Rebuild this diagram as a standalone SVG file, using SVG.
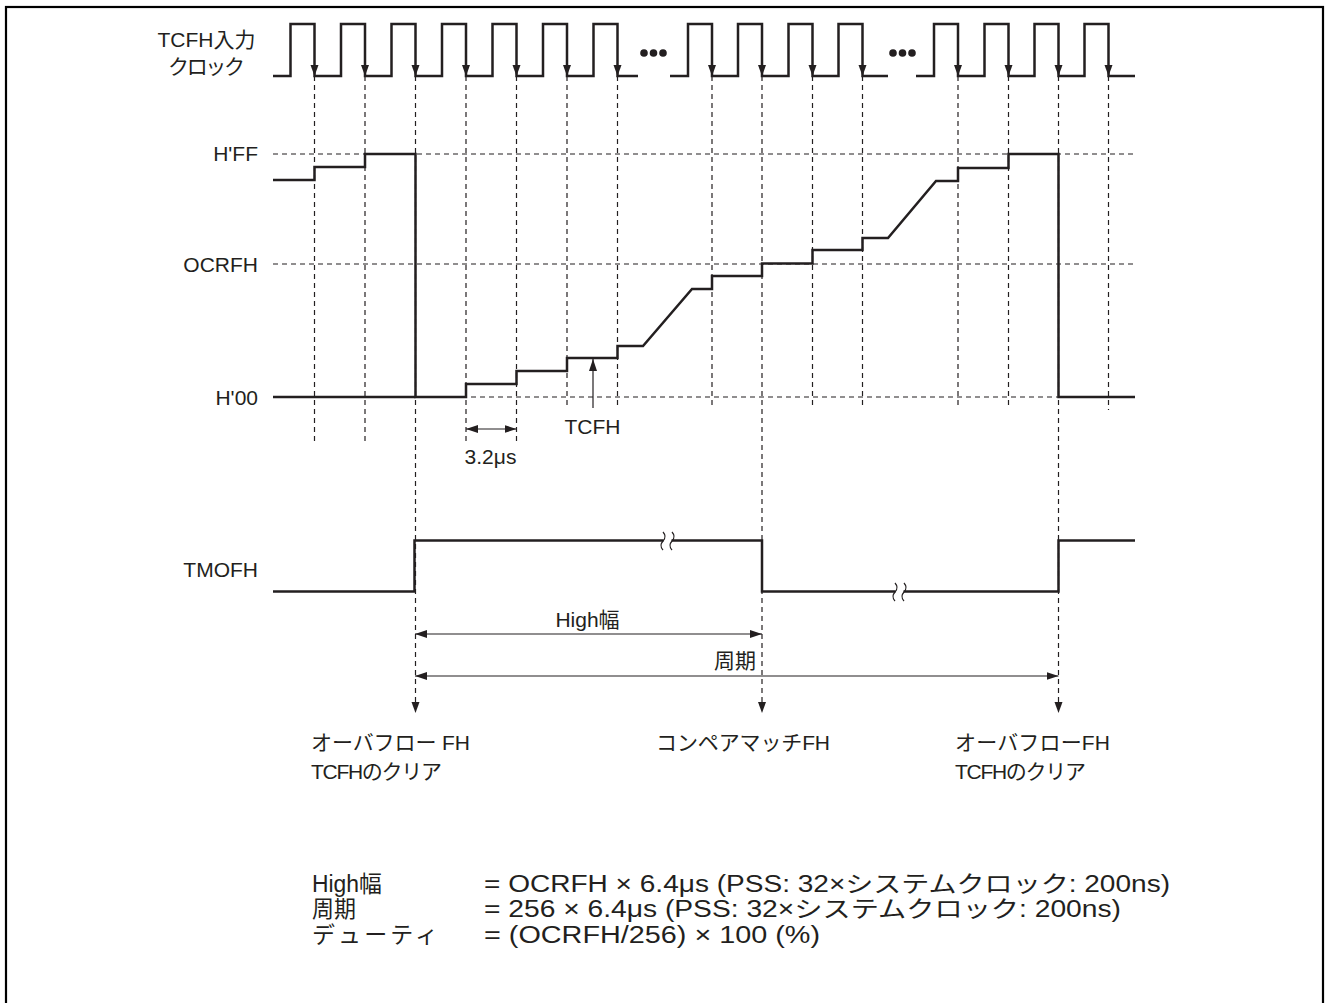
<svg xmlns="http://www.w3.org/2000/svg" width="1325" height="1003" viewBox="0 0 1325 1003">
<style>
.sig{fill:none;stroke:#231f20;stroke-width:2.5;stroke-linejoin:miter}
.dash{fill:none;stroke:#231f20;stroke-width:1.2;stroke-dasharray:5 4}
.dim{fill:none;stroke:#231f20;stroke-width:1.2}
.tri{fill:#231f20}
text{font-family:"Liberation Sans","Noto Sans CJK JP",sans-serif;font-size:21px;fill:#231f20}
.eq{font-size:23px}
</style>
<defs>
<marker id="ah" viewBox="0 0 12 8" refX="12" refY="4" markerWidth="12" markerHeight="8" orient="auto-start-reverse" markerUnits="userSpaceOnUse">
<path d="M0,0 L12,4 L0,8 z" fill="#231f20"/>
</marker>
<path id="tri" d="M-4,-11 L4,-11 L0,0 z"/>
</defs>
<rect x="6" y="7" width="1317" height="1010" fill="none" stroke="#000" stroke-width="2.2"/>

<g id="labels">
<text x="206.5" y="47" text-anchor="middle">TCFH入力</text>
<text x="206.5" y="74" text-anchor="middle" textLength="77" lengthAdjust="spacing">クロック</text>
<text x="258" y="161" text-anchor="end">H'FF</text>
<text x="258" y="272" text-anchor="end">OCRFH</text>
<text x="258" y="405" text-anchor="end">H'00</text>
<text x="258" y="577" text-anchor="end">TMOFH</text>
</g>

<g id="grid">
<line class="dash" x1="273" y1="154" x2="1135" y2="154"/>
<line class="dash" x1="273" y1="264" x2="1135" y2="264"/>
<line class="dash" x1="273" y1="397" x2="1135" y2="397"/>
<line class="dash" x1="314.5" y1="76" x2="314.5" y2="443"/>
<line class="dash" x1="365" y1="76" x2="365" y2="443"/>
<line class="dash" x1="415.5" y1="76" x2="415.5" y2="703"/>
<line class="dash" x1="466" y1="76" x2="466" y2="445"/>
<line class="dash" x1="516.5" y1="76" x2="516.5" y2="445"/>
<line class="dash" x1="567" y1="76" x2="567" y2="408"/>
<line class="dash" x1="617.5" y1="76" x2="617.5" y2="408"/>
<line class="dash" x1="712" y1="76" x2="712" y2="408"/>
<line class="dash" x1="762" y1="76" x2="762" y2="703"/>
<line class="dash" x1="812.5" y1="76" x2="812.5" y2="408"/>
<line class="dash" x1="862.5" y1="76" x2="862.5" y2="408"/>
<line class="dash" x1="958" y1="76" x2="958" y2="408"/>
<line class="dash" x1="1008.5" y1="76" x2="1008.5" y2="408"/>
<line class="dash" x1="1058.5" y1="76" x2="1058.5" y2="703"/>
<line class="dash" x1="1108.5" y1="76" x2="1108.5" y2="410"/>
</g>

<g id="clock">
<path class="sig" d="M273,76 H290.5 V24 H314.5 V76 H341 V24 H365 V76 H391.5 V24 H415.5 V76 H442 V24 H466 V76 H492.5 V24 H516.5 V76 H543 V24 H567 V76 H593.5 V24 H617.5 V76 H638"/>
<path class="sig" d="M670,76 H688 V24 H712 V76 H738 V24 H762 V76 H788.5 V24 H812.5 V76 H838.5 V24 H862.5 V76 H888"/>
<path class="sig" d="M916,76 H934 V24 H958 V76 H984.5 V24 H1008.5 V76 H1034.5 V24 H1058.5 V76 H1084.5 V24 H1108.5 V76 H1135"/>
<g class="tri">
<use href="#tri" x="314.5" y="76"/><use href="#tri" x="365" y="76"/><use href="#tri" x="415.5" y="76"/><use href="#tri" x="466" y="76"/><use href="#tri" x="516.5" y="76"/><use href="#tri" x="567" y="76"/><use href="#tri" x="617.5" y="76"/>
<use href="#tri" x="712" y="76"/><use href="#tri" x="762" y="76"/><use href="#tri" x="812.5" y="76"/><use href="#tri" x="862.5" y="76"/>
<use href="#tri" x="958" y="76"/><use href="#tri" x="1008.5" y="76"/><use href="#tri" x="1058.5" y="76"/><use href="#tri" x="1108.5" y="76"/>
</g>
<g fill="#231f20">
<circle cx="644" cy="53" r="3.8"/><circle cx="653.5" cy="53" r="3.8"/><circle cx="663" cy="53" r="3.8"/>
<circle cx="893" cy="53" r="3.8"/><circle cx="902.5" cy="53" r="3.8"/><circle cx="912" cy="53" r="3.8"/>
</g>
</g>

<g id="tcfh-count">
<path class="sig" d="M273,397 H415.5"/>
<path class="sig" d="M273,180 H314.5 V167 H365 V154 H415.5 V397 H466 V384 H516.5 V371 H567 V358 H617.5 V346 H643 L692,289 H712 V276 H762 V263.5 H812.5 V250 H862.5 V238 H888 L936,181 H958 V168 H1008.5 V154 H1058.5 V397 H1135"/>
</g>

<g id="tmofh">
<path class="sig" d="M273,591.5 H414.5 V540.5 H762 V591.5 H1058.5 V540.5 H1135"/>
<rect x="663.5" y="537" width="8" height="7" fill="#fff"/>
<path class="dim" d="M663,532 q4,4.5 0,9 q-4,4.5 0,9 M672,532 q4,4.5 0,9 q-4,4.5 0,9"/>
<rect x="895.5" y="588" width="8" height="7" fill="#fff"/>
<path class="dim" d="M895,583 q4,4.5 0,9 q-4,4.5 0,9 M904,583 q4,4.5 0,9 q-4,4.5 0,9"/>
</g>

<g id="connectors">
<line class="dim" x1="593" y1="408" x2="593" y2="359" marker-end="url(#ah)"/>
<line class="dim" x1="466" y1="429" x2="516.5" y2="429" marker-start="url(#ah)" marker-end="url(#ah)"/>
<line class="dim" x1="415" y1="634" x2="762" y2="634" marker-start="url(#ah)" marker-end="url(#ah)"/>
<line class="dim" x1="415" y1="676" x2="1058.5" y2="676" marker-start="url(#ah)" marker-end="url(#ah)"/>
<g class="tri">
<use href="#tri" x="415.5" y="713"/><use href="#tri" x="762" y="713"/><use href="#tri" x="1058.5" y="713"/>
</g>
</g>

<g id="annotations">
<text x="592.5" y="434" text-anchor="middle">TCFH</text>
<text x="490.5" y="464" text-anchor="middle">3.2μs</text>
<text x="587.5" y="627" text-anchor="middle">High幅</text>
<text x="735" y="668" text-anchor="middle">周期</text>
<text x="311" y="750" textLength="159" lengthAdjust="spacing">オーバフロー FH</text>
<text x="311" y="779" textLength="131" lengthAdjust="spacing">TCFHのクリア</text>
<text x="656" y="750" textLength="174" lengthAdjust="spacing">コンペアマッチFH</text>
<text x="955" y="750" textLength="155" lengthAdjust="spacing">オーバフローFH</text>
<text x="955" y="779" textLength="131" lengthAdjust="spacing">TCFHのクリア</text>
</g>

<g id="formulas">
<text class="eq" x="312" y="892" textLength="70" lengthAdjust="spacingAndGlyphs">High幅</text>
<text class="eq" x="312" y="917" textLength="44" lengthAdjust="spacingAndGlyphs">周期</text>
<text class="eq" x="312" y="943" textLength="126" lengthAdjust="spacing">デューティ</text>
<text class="eq" x="484" y="892" textLength="686" lengthAdjust="spacingAndGlyphs">= OCRFH  × 6.4μs (PSS: 32×システムクロック: 200ns)</text>
<text class="eq" x="484" y="917" textLength="637" lengthAdjust="spacingAndGlyphs">= 256  × 6.4μs (PSS: 32×システムクロック: 200ns)</text>
<text class="eq" x="484" y="943" textLength="336" lengthAdjust="spacingAndGlyphs">= (OCRFH/256)  × 100 (%)</text>
</g>
</svg>
